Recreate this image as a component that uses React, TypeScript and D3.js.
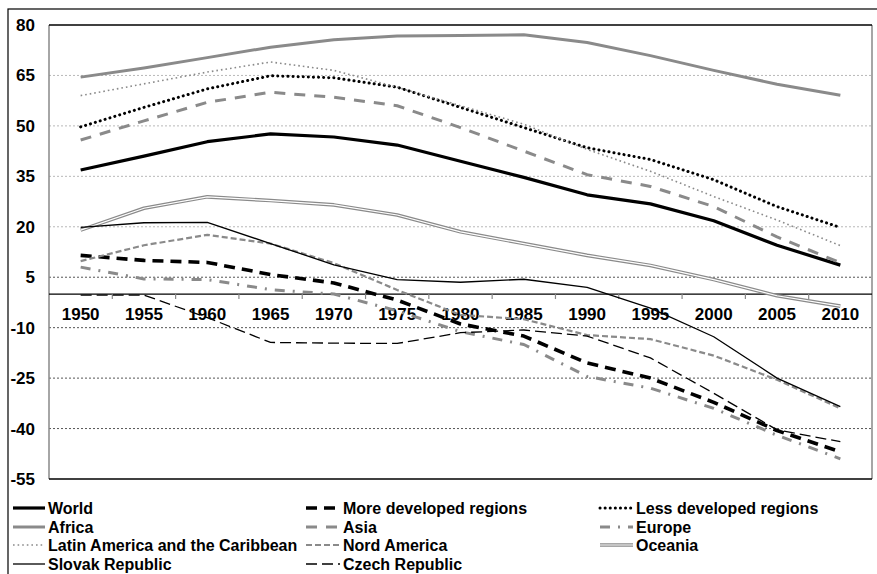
import React from "react";
import * as d3 from "d3";

const width = 877;
const height = 574;
const plot = { left: 49, right: 872, top: 25, bottom: 479 };

const years = ["1950", "1955", "1960", "1965", "1970", "1975", "1980", "1985", "1990", "1995", "2000", "2005", "2010"];
const yTicks = [80, 65, 50, 35, 20, 5, -10, -25, -40, -55];

const world = [36.9, 41.0, 45.3, 47.6, 46.7, 44.3, 39.5, 34.7, 29.5, 26.8, 21.8, 14.5, 8.6];
const moreDeveloped = [11.5, 10.0, 9.4, 5.8, 3.3, -1.8, -8.9, -12.5, -20.5, -25.0, -32.2, -40.6, -46.9];
const lessDeveloped = [49.7, 55.5, 61.0, 64.9, 64.3, 61.5, 55.5, 49.5, 43.5, 40.0, 34.0, 26.0, 19.8];
const africa = [64.5, 67.2, 70.3, 73.4, 75.6, 76.7, 76.9, 77.1, 74.8, 70.9, 66.5, 62.4, 59.1];
const asia = [45.8, 51.5, 57.0, 60.0, 58.5, 56.0, 49.5, 42.5, 35.5, 32.0, 26.0, 17.0, 9.3];
const europe = [8.0, 4.5, 4.3, 1.3, 0.0, -5.0, -11.2, -15.0, -24.5, -28.0, -34.0, -42.0, -49.0];
const latinAmerica = [59.0, 62.5, 66.0, 69.0, 66.5, 61.5, 56.0, 50.5, 43.0, 36.5, 29.0, 22.0, 14.4];
const nordAmerica = [9.8, 14.5, 17.6, 15.0, 9.2, 1.2, -6.2, -7.5, -12.2, -13.4, -18.3, -25.5, -34.0];
const oceania = [19.0, 25.5, 28.9, 27.8, 26.5, 23.5, 18.5, 15.0, 11.5, 8.5, 4.3, -0.5, -3.6];
const slovak = [19.8, 21.2, 21.3, 15.0, 8.7, 4.3, 3.5, 4.4, 2.0, -4.2, -12.7, -25.0, -33.5];
const czech = [-0.3, -0.3, -7.0, -14.4, -14.6, -14.7, -11.5, -10.7, -12.5, -19.0, -29.5, -40.4, -43.9];

const gray = "#8a8a8a";

// style per series; legend in 3 columns, 4 rows
const series = [
  { name: "World", data: world, stroke: "#000", w: 3.2, dash: "", col: 0, row: 0 },
  { name: "More developed regions", data: moreDeveloped, stroke: "#000", w: 3.6, dash: "11,7", col: 1, row: 0 },
  { name: "Less developed regions", data: lessDeveloped, stroke: "#000", w: 3, dash: "0.1,5", cap: "round", col: 2, row: 0 },
  { name: "Africa", data: africa, stroke: gray, w: 3, dash: "", col: 0, row: 1 },
  { name: "Asia", data: asia, stroke: gray, w: 3, dash: "11,9", col: 1, row: 1 },
  { name: "Europe", data: europe, stroke: gray, w: 3, dash: "10,8,2,8", col: 2, row: 1 },
  { name: "Latin America and the Caribbean", data: latinAmerica, stroke: gray, w: 1.6, dash: "1.6,3", col: 0, row: 2 },
  { name: "Nord America", data: nordAmerica, stroke: gray, w: 2.2, dash: "6,3", col: 1, row: 2 },
  { name: "Oceania", data: oceania, stroke: gray, w: 3.6, dash: "", double: true, col: 2, row: 2 },
  { name: "Slovak Republic", data: slovak, stroke: "#000", w: 1.3, dash: "", col: 0, row: 3 },
  { name: "Czech Republic", data: czech, stroke: "#000", w: 1.3, dash: "11,5", col: 1, row: 3 },
];

const legendCols = [{ x1: 13, x2: 45 }, { x1: 306, x2: 340 }, { x1: 600, x2: 633 }];
const legendRows = [508, 527, 545, 564];

export default function App() {
  const x = d3.scaleBand().domain(years).range([plot.left, plot.right]);
  const y = d3.scaleLinear().domain([-55, 80]).range([plot.bottom, plot.top]);
  const cx = (yr: string) => (x(yr) as number) + x.bandwidth() / 2;
  const line = d3
    .line<number>()
    .x((d, i) => cx(years[i]))
    .y((d) => y(d));
  const font = "'Liberation Sans', Arial, sans-serif";

  return (
    <svg width={width} height={height} style={{ position: "absolute", left: 0, top: 0, background: "#fff" }}>
      <rect x={8} y={9} width={900} height={600} fill="#fff" stroke="#000" strokeWidth={1.2} />
      {/* gridlines */}
      {yTicks.filter((t) => t !== 80 && t !== -55).map((t) => (
        <line
          key={t}
          x1={plot.left}
          x2={plot.right}
          y1={y(t)}
          y2={y(t)}
          stroke={t > 10 ? "#b8b8b8" : "#555"}
          strokeWidth={1}
          strokeDasharray="2,2"
        />
      ))}
      {/* plot border */}
      <line x1={plot.left} x2={plot.left} y1={plot.top} y2={plot.bottom} stroke="#888" strokeWidth={1.5} />
      <line x1={plot.right} x2={plot.right} y1={plot.top} y2={plot.bottom} stroke="#888" strokeWidth={1.5} />
      <line x1={plot.left} x2={plot.right} y1={plot.top} y2={plot.top} stroke="#000" strokeWidth={1.5} />
      <line x1={plot.left} x2={plot.right} y1={plot.bottom} y2={plot.bottom} stroke="#000" strokeWidth={1.5} />
      {/* y labels */}
      {yTicks.map((t) => (
        <text key={t} x={35} y={y(t) + 6} textAnchor="end" fontFamily={font} fontWeight="bold" fontSize={17}>
          {t}
        </text>
      ))}
      {/* zero axis */}
      <line x1={plot.left} x2={plot.right} y1={y(0)} y2={y(0)} stroke="#000" strokeWidth={1.2} />
      {years.slice(1).map((yr) => (
        <line key={yr} x1={x(yr)} x2={x(yr)} y1={y(0)} y2={y(0) + 5} stroke="#888" strokeWidth={1.2} />
      ))}
      {years.map((yr) => (
        <text key={yr} x={cx(yr)} y={y(0) + 26} textAnchor="middle" fontFamily={font} fontWeight="bold" fontSize={17}>
          {yr}
        </text>
      ))}
      {/* series */}
      {series.map((s) => (
        <g key={s.name}>
          <path
            d={line(s.data) || ""}
            fill="none"
            stroke={s.stroke}
            strokeWidth={s.w}
            strokeDasharray={s.dash}
            strokeLinecap={(s.cap as any) || "butt"}
            strokeLinejoin="round"
          />
          {s.double && <path d={line(s.data) || ""} fill="none" stroke="#fff" strokeWidth={1.2} />}
        </g>
      ))}
      {/* legend */}
      {series.map((s) => {
        const c = legendCols[s.col];
        const ly = legendRows[s.row];
        return (
          <g key={"lg" + s.name}>
            <line
              x1={c.x1}
              x2={c.x2}
              y1={ly}
              y2={ly}
              stroke={s.stroke}
              strokeWidth={s.w}
              strokeDasharray={s.dash}
              strokeLinecap={(s.cap as any) || "butt"}
            />
            {s.double && <line x1={c.x1} x2={c.x2} y1={ly} y2={ly} stroke="#fff" strokeWidth={1.2} />}
            <text x={c.x2 + 3} y={ly + 5.5} fontFamily={font} fontWeight="bold" fontSize={16}>
              {s.name}
            </text>
          </g>
        );
      })}
    </svg>
  );
}
